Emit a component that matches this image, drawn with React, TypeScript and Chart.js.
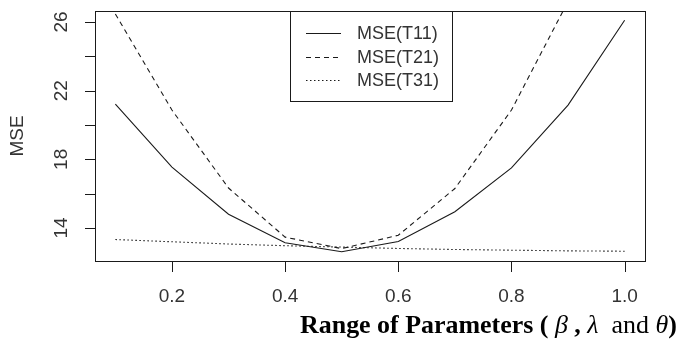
import React, { useEffect, useRef } from "react";
import { Chart, registerables } from "chart.js";

Chart.register(...registerables);

const X_VALUES = [0.1, 0.2, 0.3, 0.4, 0.5, 0.6, 0.7, 0.8, 0.9, 1.0];
const MSE_T11 = [21.22, 17.55, 14.8, 13.14, 12.62, 13.22, 14.95, 17.5, 21.16, 26.1];
const MSE_T21 = [26.47, 20.87, 16.33, 13.47, 12.8, 13.58, 16.3, 20.87, 27.2, 35.0];
const MSE_T31 = [13.33, 13.2, 13.07, 12.97, 12.89, 12.81, 12.75, 12.71, 12.67, 12.65];
const SERIES_NAMES = ["MSE(T11)", "MSE(T21)", "MSE(T31)"];
const X_TICKS = [0.2, 0.4, 0.6, 0.8, 1.0];
const X_TICK_LABELS = ["0.2", "0.4", "0.6", "0.8", "1.0"];
const Y_TICKS = [14, 16, 18, 20, 22, 24, 26];
const Y_LABELED = [14, 18, 22, 26];
const Y_TITLE = "MSE";

const SANS = "'Liberation Sans', Arial, sans-serif";
const SERIF = "'Liberation Serif', 'Times New Roman', serif";
const INK = "#1a1a1a";
const TXT = "#333";
const DASHES = [[], [5, 4], [1.5, 2.5]];

const rPlot = {
  id: "rPlot",
  afterDraw(chart: any) {
    const { ctx, chartArea: a, scales } = chart;
    const xs = scales.x;
    const ys = scales.y;
    ctx.save();
    ctx.strokeStyle = INK;
    ctx.lineWidth = 1;
    ctx.setLineDash([]);
    ctx.strokeRect(a.left + 0.5, a.top + 0.5, a.right - a.left, a.bottom - a.top);
    ctx.fillStyle = TXT;
    ctx.font = `19px ${SANS}`;
    Y_TICKS.forEach((v) => {
      const py = Math.round(ys.getPixelForValue(v)) + 0.5;
      ctx.beginPath();
      ctx.moveTo(a.left - 10, py);
      ctx.lineTo(a.left + 0.5, py);
      ctx.stroke();
      if (Y_LABELED.includes(v)) {
        ctx.save();
        ctx.translate(61.5, ys.getPixelForValue(v));
        ctx.rotate(-Math.PI / 2);
        ctx.textAlign = "center";
        ctx.textBaseline = "middle";
        ctx.fillText(String(v), 0, 0);
        ctx.restore();
      }
    });
    X_TICKS.forEach((v, i) => {
      const px = Math.round(xs.getPixelForValue(v)) + 0.5;
      ctx.beginPath();
      ctx.moveTo(px, a.bottom + 0.5);
      ctx.lineTo(px, a.bottom + 11);
      ctx.stroke();
      ctx.textAlign = "center";
      ctx.textBaseline = "middle";
      ctx.fillText(X_TICK_LABELS[i], xs.getPixelForValue(v), 297);
    });
    ctx.save();
    ctx.translate(17.5, (a.top + a.bottom) / 2);
    ctx.rotate(-Math.PI / 2);
    ctx.textAlign = "center";
    ctx.textBaseline = "middle";
    ctx.fillText(Y_TITLE, 0, 0);
    ctx.restore();
    // legend
    const lx0 = 290.5, lx1 = 452.5, ly0 = a.top + 0.5, ly1 = 101.5;
    ctx.fillStyle = "#fff";
    ctx.fillRect(lx0, ly0, lx1 - lx0, ly1 - ly0);
    ctx.strokeRect(lx0, ly0, lx1 - lx0, ly1 - ly0);
    const rows = [33.5, 57.5, 80.5];
    SERIES_NAMES.forEach((name, i) => {
      ctx.setLineDash(DASHES[i]);
      ctx.beginPath();
      ctx.moveTo(306, rows[i]);
      ctx.lineTo(341, rows[i]);
      ctx.stroke();
      ctx.setLineDash([]);
      ctx.fillStyle = TXT;
      ctx.textAlign = "left";
      ctx.textBaseline = "middle";
      ctx.font = `18px ${SANS}`;
      ctx.fillText(name, 357, rows[i] + 0.5);
    });
    // x title
    const segs = [
      { t: "Range of Parameters ( ", s: "bold" },
      { t: "β", s: "italic" },
      { t: " , ", s: "bold" },
      { t: "λ", s: "italic" },
      { t: "  and ", s: "" },
      { t: "θ", s: "italic" },
      { t: ")", s: "bold" },
    ];
    const base = 22;
    let w = 0;
    segs.forEach((sg) => {
      ctx.font = `${sg.s} ${base}px ${SERIF}`;
      w += ctx.measureText(sg.t).width;
    });
    const size = (base * 377) / w;
    let cx = 300;
    ctx.fillStyle = "#000";
    ctx.textBaseline = "alphabetic";
    ctx.textAlign = "left";
    segs.forEach((sg) => {
      ctx.font = `${sg.s} ${size}px ${SERIF}`;
      ctx.fillText(sg.t, cx, 333);
      cx += ctx.measureText(sg.t).width;
    });
    ctx.restore();
  },
};

export default function App() {
  const ref = useRef<HTMLCanvasElement>(null);
  useEffect(() => {
    if (!ref.current) return;
    const mk = (vals: number[]) => X_VALUES.map((x, i) => ({ x, y: vals[i] }));
    const chart = new Chart(ref.current, {
      type: "line",
      data: {
        datasets: [MSE_T11, MSE_T21, MSE_T31].map((vals, i) => ({
          label: SERIES_NAMES[i],
          data: mk(vals),
          borderColor: INK,
          borderWidth: 1.1,
          borderDash: DASHES[i],
          pointRadius: 0,
          tension: 0,
          fill: false,
          clip: 0,
        })),
      },
      options: {
        responsive: false,
        animation: false,
        events: [],
        layout: { padding: { left: 0, top: 11, right: 34, bottom: 0 } },
        plugins: { legend: { display: false }, tooltip: { enabled: false } },
        scales: {
          x: {
            type: "linear",
            min: 0.064,
            max: 1.036,
            grid: { display: false },
            border: { display: false },
            ticks: { display: false },
            afterFit: (s: any) => {
              s.height = 82;
            },
          },
          y: {
            type: "linear",
            min: 12.08,
            max: 26.64,
            grid: { display: false },
            border: { display: false },
            ticks: { display: false },
            afterFit: (s: any) => {
              s.width = 95;
            },
          },
        },
      },
      plugins: [rPlot],
    } as any);
    return () => chart.destroy();
  }, []);
  return (
    <div style={{ position: "absolute", left: 0, top: 0, width: 679, height: 343, background: "#fff" }}>
      <canvas ref={ref} width={679} height={343} style={{ display: "block" }} />
    </div>
  );
}
